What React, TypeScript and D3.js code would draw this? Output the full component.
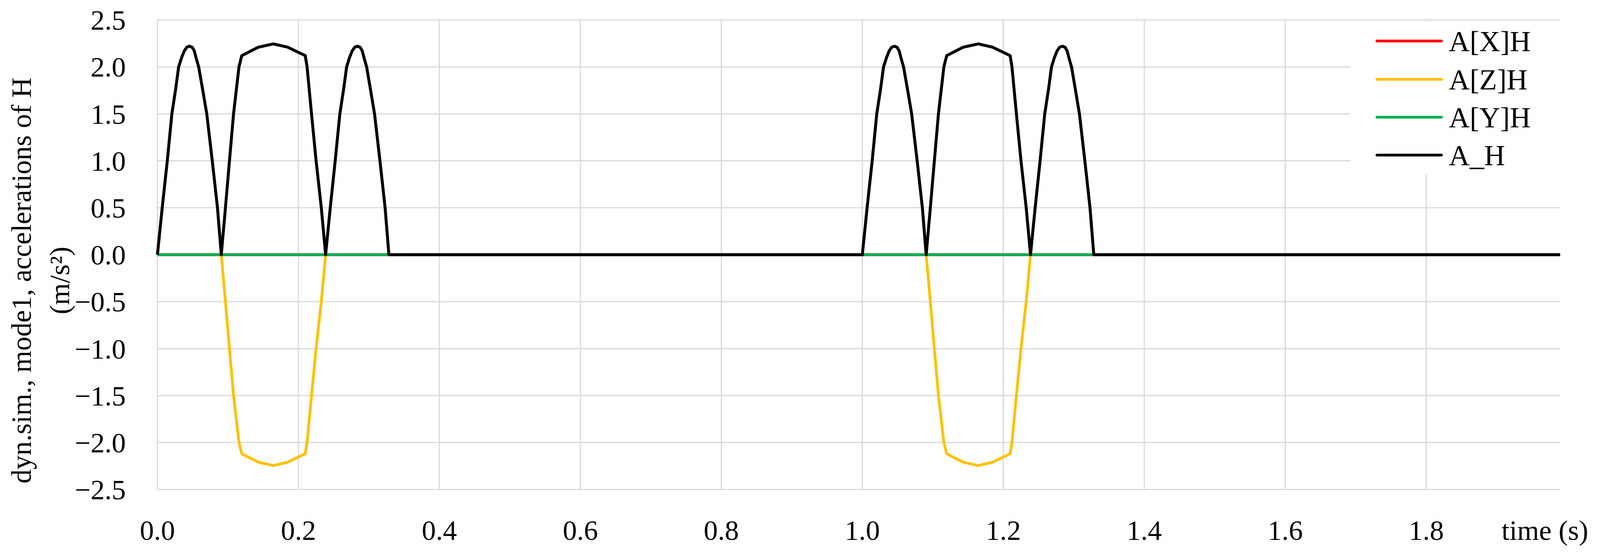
import React, { useEffect, useRef } from "react";
import * as d3 from "d3";

// one motion cycle of H, repeated at each start time
const cycleStarts = [0, 1.0];
const cycleTime = [
  0, 0.0068, 0.014, 0.0205, 0.026, 0.0301, 0.0344, 0.0381, 0.0418, 0.0455, 0.0492, 0.0523, 0.0547,
  0.0585, 0.0639, 0.07, 0.0778, 0.0852, 0.0906,
  0.0965, 0.1022, 0.108, 0.1157, 0.1197, 0.1433, 0.1645, 0.1846, 0.2097, 0.2123, 0.2186, 0.2251,
  0.2325, 0.2386,
  0.2452, 0.2522, 0.2588, 0.2643, 0.2684, 0.2726, 0.2763, 0.28, 0.2838, 0.2875, 0.2906, 0.293,
  0.2968, 0.302, 0.308, 0.3157, 0.323, 0.3284,
];
const cycleZ = [
  0, 0.5, 1.0, 1.5, 1.77, 2.0, 2.1, 2.17, 2.21, 2.22, 2.21, 2.17, 2.1,
  2.0, 1.77, 1.5, 1.0, 0.5, 0,
  -0.5, -1.0, -1.5, -2.0, -2.12, -2.21, -2.245, -2.21, -2.12, -2.0, -1.5, -1.0,
  -0.5, 0,
  0.5, 1.0, 1.5, 1.77, 2.0, 2.1, 2.17, 2.21, 2.22, 2.21, 2.17, 2.1,
  2.0, 1.77, 1.5, 1.0, 0.5, 0,
];
const cycleH = [
  0, 0.5, 1.0, 1.5, 1.77, 2.0, 2.1, 2.17, 2.21, 2.22, 2.21, 2.17, 2.1,
  2.0, 1.77, 1.5, 1.0, 0.5, 0,
  0.5, 1.0, 1.5, 2.0, 2.12, 2.21, 2.245, 2.21, 2.12, 2.0, 1.5, 1.0,
  0.5, 0,
  0.5, 1.0, 1.5, 1.77, 2.0, 2.1, 2.17, 2.21, 2.22, 2.21, 2.17, 2.1,
  2.0, 1.77, 1.5, 1.0, 0.5, 0,
];
const flatTime = [0, 1.99];
const accX = [0, 0];
const accY = [0, 0];
const endTime = 1.99;

const xTicks = [0, 0.2, 0.4, 0.6, 0.8, 1.0, 1.2, 1.4, 1.6, 1.8];
const yTicks = [-2.5, -2.0, -1.5, -1.0, -0.5, 0, 0.5, 1.0, 1.5, 2.0, 2.5];
const seriesNames = ["A[X]H", "A[Z]H", "A[Y]H", "A_H"];
const seriesColors = ["#ff0000", "#ffc000", "#00b050", "#000000"];
const seriesWidths = [7, 7, 7, 7.5];

const W = 4105;
const H = 1413;
const FONT = "'Liberation Serif', 'DejaVu Serif', serif";

function buildCycles(values: number[]): [number, number][] {
  const pts: [number, number][] = [];
  cycleStarts.forEach((s) => {
    cycleTime.forEach((t, i) => pts.push([s + t, values[i]]));
  });
  pts.push([endTime, 0]);
  return pts;
}

export default function App() {
  const ref = useRef<SVGSVGElement>(null);

  useEffect(() => {
    document.body.style.margin = "0";
    if (!ref.current) return;
    const svg = d3.select(ref.current);
    svg.selectAll("*").remove();

    const x = d3.scaleLinear().domain([0, endTime]).range([403, 3994]);
    const y = d3.scaleLinear().domain([-2.5, 2.5]).range([1253, 51]);

    // grid
    const grid = svg.append("g").attr("stroke", "#d9d9d9").attr("stroke-width", 3);
    grid
      .selectAll("line.h")
      .data(yTicks)
      .join("line")
      .attr("x1", x(0))
      .attr("x2", x(endTime))
      .attr("y1", (d) => y(d))
      .attr("y2", (d) => y(d));
    grid
      .selectAll("line.v")
      .data(xTicks)
      .join("line")
      .attr("x1", (d) => x(d))
      .attr("x2", (d) => x(d))
      .attr("y1", y(2.5))
      .attr("y2", y(-2.5));

    // legend box hides the grid behind it
    svg.append("rect").attr("x", 3456).attr("y", 56).attr("width", 560).attr("height", 390).attr("fill", "#fff");

    // tick labels
    svg
      .append("g")
      .selectAll("text")
      .data(yTicks)
      .join("text")
      .attr("x", 322)
      .attr("y", (d) => y(d))
      .attr("dy", "0.35em")
      .attr("text-anchor", "end")
      .attr("font-family", FONT)
      .attr("font-size", 72)
      .text((d) => d3.format(".1f")(d));

    svg
      .append("g")
      .selectAll("text")
      .data(xTicks)
      .join("text")
      .attr("x", (d) => x(d))
      .attr("y", 1382)
      .attr("text-anchor", "middle")
      .attr("font-family", FONT)
      .attr("font-size", 72)
      .text((d) => d3.format(".1f")(d));

    svg
      .append("text")
      .attr("x", 3844)
      .attr("y", 1382)
      .attr("font-family", FONT)
      .attr("font-size", 72)
      .text("time (s)");

    // y axis title, two lines
    const titleLines = ["dyn.sim., mode1, accelerations of H", "(m/s²)"];
    const titleX = [79, 177];
    titleLines.forEach((t, i) => {
      svg
        .append("text")
        .attr("transform", `translate(${titleX[i]},718) rotate(-90)`)
        .attr("text-anchor", "middle")
        .attr("font-family", FONT)
        .attr("font-size", 72)
        .text(t);
    });

    // series
    const line = d3
      .line<[number, number]>()
      .x((d) => x(d[0]))
      .y((d) => y(d[1]));

    const flat = (vals: number[]) => flatTime.map((t, i) => [t, vals[i]] as [number, number]);
    const seriesData: [number, number][][] = [flat(accX), buildCycles(cycleZ), flat(accY), buildCycles(cycleH)];

    seriesData.forEach((pts, i) => {
      svg
        .append("path")
        .datum(pts)
        .attr("fill", "none")
        .attr("stroke", seriesColors[i])
        .attr("stroke-width", seriesWidths[i])
        .attr("stroke-linejoin", "round")
        .attr("d", line);
    });

    // legend
    const legendY = [105, 203, 300, 397];
    const lg = svg.append("g");
    seriesNames.forEach((name, i) => {
      lg.append("line")
        .attr("x1", 3525)
        .attr("x2", 3690)
        .attr("y1", legendY[i])
        .attr("y2", legendY[i])
        .attr("stroke", seriesColors[i])
        .attr("stroke-width", 7)
        .attr("stroke-linecap", "round");
      lg.append("text")
        .attr("x", 3709)
        .attr("y", legendY[i])
        .attr("dy", "0.35em")
        .attr("font-family", FONT)
        .attr("font-size", 74)
        .text(name);
    });
  }, []);

  return <svg ref={ref} width={W} height={H} style={{ display: "block", background: "#fff" }} />;
}
